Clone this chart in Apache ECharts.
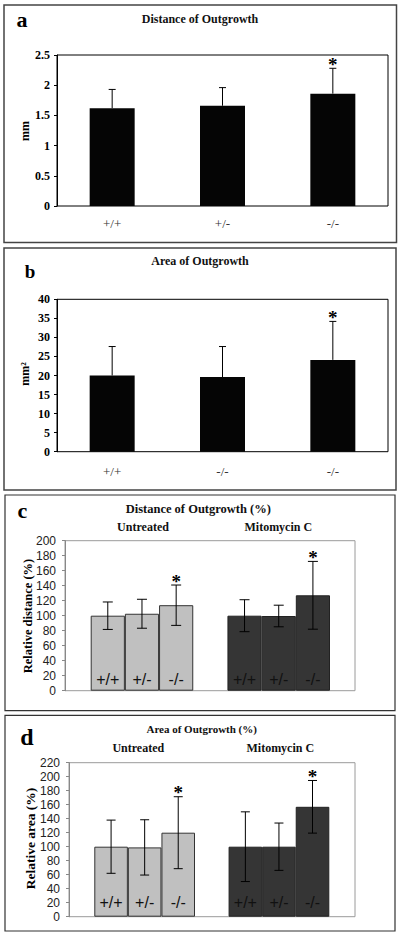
<!DOCTYPE html>
<html>
<head>
<meta charset="utf-8">
<script src="https://cdn.jsdelivr.net/npm/echarts@6/dist/echarts.min.js"></script>
<style>
html,body{margin:0;padding:0;background:#fff;}
#chart{width:400px;height:936px;}
</style>
</head>
<body>
<div id="chart"></div>
<script>
// ---------- data ----------
const genotypesA = ["+/+", "+/-", "-/-"];
const distMean = [1.62, 1.66, 1.86];
const distErr = [0.31, 0.30, 0.42];
const distSig = [0, 0, 1];
const distTicks = [0, 0.5, 1, 1.5, 2, 2.5];

const genotypesB = ["+/+", "-/-", "-/-"];
const areaMean = [20.0, 19.6, 24.1];
const areaErr = [7.6, 8.0, 10.1];
const areaSig = [0, 0, 1];
const areaTicks = [0, 5, 10, 15, 20, 25, 30, 35, 40];

const groups = ["Untreated", "Mitomycin C"];
const genotypes = ["+/+", "+/-", "-/-"];

const relDistUntreated = [100, 102.6, 114.0];
const relDistUntreatedErr = [18.3, 19.3, 26.9];
const relDistMito = [100, 99.6, 127.2];
const relDistMitoErr = [21.3, 14.4, 45.2];
const relDistSigUntreated = [0, 0, 1];
const relDistSigMito = [0, 0, 1];
const relDistTicks = [0, 20, 40, 60, 80, 100, 120, 140, 160, 180, 200];

const relAreaUntreated = [100, 99, 120];
const relAreaUntreatedErr = [38, 39.5, 51.4];
const relAreaMito = [100, 100, 157];
const relAreaMitoErr = [49.8, 33.8, 37.6];
const relAreaSigUntreated = [0, 0, 1];
const relAreaSigMito = [0, 0, 1];
const relAreaTicks = [0, 20, 40, 60, 80, 100, 120, 140, 160, 180, 200, 220];

const yNames = ["mm", "mm²", "Relative distance (%)", "Relative area (%)"];

// ---------- helpers ----------
const SERIF = "'Liberation Serif', 'Times New Roman', serif";
const SANS = "'Liberation Sans', Arial, sans-serif";

function errRender(capHalf, twoSided) {
  return function (params, api) {
    const x = api.value(0), lo = api.value(1), hi = api.value(2), sig = api.value(3);
    const pLo = api.coord([x, lo]);
    const pHi = api.coord([x, hi]);
    const st = { stroke: '#000', lineWidth: 1 };
    const ch = [
      { type: 'line', shape: { x1: pLo[0], y1: pLo[1], x2: pHi[0], y2: pHi[1] }, style: st },
      { type: 'line', shape: { x1: pHi[0] - capHalf, y1: pHi[1], x2: pHi[0] + capHalf, y2: pHi[1] }, style: st }
    ];
    if (twoSided) {
      ch.push({ type: 'line', shape: { x1: pLo[0] - capHalf, y1: pLo[1], x2: pLo[0] + capHalf, y2: pLo[1] }, style: st });
    }
    if (sig) {
      ch.push({ type: 'text', style: { text: '*', x: pHi[0], y: pHi[1] - 4, align: 'center', verticalAlign: 'middle',
        font: 'bold 19px ' + SERIF, fill: '#000' } });
    }
    return { type: 'group', children: ch };
  };
}

function upperErrData(mean, err, sig) {
  return mean.map((m, i) => [i, m, m + err[i], sig[i]]);
}
function groupedErrData(m1, e1, s1, m2, e2, s2) {
  const out = [];
  m1.forEach((m, i) => out.push([i, m - e1[i], m + e1[i], s1[i]]));
  m2.forEach((m, i) => out.push([i + m1.length + 1, m - e2[i], m + e2[i], s2[i]]));
  return out;
}

// grouped x keys: 3 untreated, a spacer, 3 mitomycin
const groupedKeys = [...genotypes.map(g => groups[0] + ' ' + g), '', ...genotypes.map(g => groups[1] + ' ' + g)];
const groupedLabels = [...genotypes, '', ...genotypes];
function padLeft(v) { return [...v, '-', '-', '-', '-']; }
function padRight(v) { return ['-', '-', '-', '-', ...v]; }

const yLabelSerif = { fontFamily: SERIF, fontWeight: 'bold', fontSize: 12, color: '#000' };
const yLabelSans = { fontFamily: SANS, fontSize: 12, color: '#222' };

function yName(text, x, y, size) {
  return { type: 'text', x: x, y: y, rotation: Math.PI / 2, silent: true,
    style: { text: text, x: 0, y: 0, align: 'center', verticalAlign: 'middle', font: 'bold ' + size + 'px ' + SERIF, fill: '#000' } };
}

const chart = echarts.init(document.getElementById('chart'), null, { renderer: 'svg' });

const option = {
  animation: false,
  backgroundColor: '#fff',
  grid: [
    { left: 57, top: 55, width: 331, height: 151, show: true, borderColor: '#000', borderWidth: 1 },
    { left: 57, top: 299.3, width: 331, height: 152.4, show: true, borderColor: '#000', borderWidth: 1 },
    { left: 65, top: 540.7, width: 290, height: 150, show: true, borderColor: '#9a9a9a', borderWidth: 1 },
    { left: 90.7, top: 540.7, width: 239.3, height: 150 },
    { left: 69, top: 762.7, width: 286, height: 154, show: true, borderColor: '#9a9a9a', borderWidth: 1 },
    { left: 94.3, top: 762.7, width: 235, height: 154 }
  ],
  xAxis: [
    { gridIndex: 0, type: 'category', data: genotypesA.map((g, i) => String(i)),
      axisLine: { show: false }, axisTick: { show: false },
      axisLabel: { formatter: (v, i) => genotypesA[i], fontFamily: SERIF, fontSize: 13, color: '#333', margin: 11 } },
    { gridIndex: 1, type: 'category', data: genotypesB.map((g, i) => String(i)),
      axisLine: { show: false }, axisTick: { show: false },
      axisLabel: { formatter: (v, i) => genotypesB[i], fontFamily: SERIF, fontSize: 13, color: '#333', margin: 13 } },
    { gridIndex: 2, type: 'value', show: false, min: 0, max: 1 },
    { gridIndex: 3, type: 'category', data: groupedKeys, show: false },
    { gridIndex: 4, type: 'value', show: false, min: 0, max: 1 },
    { gridIndex: 5, type: 'category', data: groupedKeys, show: false }
  ],
  yAxis: [
    { gridIndex: 0, type: 'value', min: distTicks[0], max: distTicks[distTicks.length - 1], interval: 0.5,
      splitLine: { show: false }, axisLine: { show: true, lineStyle: { color: '#000' } },
      axisTick: { show: true, length: 3, lineStyle: { color: '#000' } },
      axisLabel: Object.assign({ margin: 7 }, yLabelSerif) },
    { gridIndex: 1, type: 'value', min: areaTicks[0], max: areaTicks[areaTicks.length - 1], interval: 5,
      splitLine: { show: false }, axisLine: { show: true, lineStyle: { color: '#000' } },
      axisTick: { show: true, length: 3, lineStyle: { color: '#000' } },
      axisLabel: Object.assign({ margin: 7 }, yLabelSerif) },
    { gridIndex: 2, type: 'value', min: relDistTicks[0], max: relDistTicks[relDistTicks.length - 1], interval: 20,
      splitLine: { show: false }, axisLine: { show: true, lineStyle: { color: '#888' } },
      axisTick: { show: true, length: 3, lineStyle: { color: '#888' } },
      axisLabel: Object.assign({ margin: 9 }, yLabelSans) },
    { gridIndex: 3, type: 'value', show: false, min: relDistTicks[0], max: relDistTicks[relDistTicks.length - 1] },
    { gridIndex: 4, type: 'value', min: relAreaTicks[0], max: relAreaTicks[relAreaTicks.length - 1], interval: 20,
      splitLine: { show: false }, axisLine: { show: true, lineStyle: { color: '#888' } },
      axisTick: { show: true, length: 3, lineStyle: { color: '#888' } },
      axisLabel: Object.assign({ margin: 9 }, yLabelSans) },
    { gridIndex: 5, type: 'value', show: false, min: relAreaTicks[0], max: relAreaTicks[relAreaTicks.length - 1] }
  ],
  series: [
    // panel a
    { type: 'bar', xAxisIndex: 0, yAxisIndex: 0, data: distMean, barWidth: 45, itemStyle: { color: '#050505' } },
    { type: 'custom', xAxisIndex: 0, yAxisIndex: 0, renderItem: errRender(3.5, false),
      data: upperErrData(distMean, distErr, distSig), encode: { x: 0, y: [1, 2] }, z: 5 },
    // panel b
    { type: 'bar', xAxisIndex: 1, yAxisIndex: 1, data: areaMean, barWidth: 45, itemStyle: { color: '#050505' } },
    { type: 'custom', xAxisIndex: 1, yAxisIndex: 1, renderItem: errRender(3.5, false),
      data: upperErrData(areaMean, areaErr, areaSig), encode: { x: 0, y: [1, 2] }, z: 5 },
    // panel c
    { name: groups[0], type: 'bar', xAxisIndex: 3, yAxisIndex: 3, data: padLeft(relDistUntreated),
      barWidth: '100%', barGap: '-100%', itemStyle: { color: '#c0c0c0', borderColor: '#333', borderWidth: 1 },
      label: { show: true, position: 'insideBottom', distance: 3, formatter: p => groupedLabels[p.dataIndex],
        fontFamily: SANS, fontSize: 16, color: '#111' } },
    { name: groups[1], type: 'bar', xAxisIndex: 3, yAxisIndex: 3, data: padRight(relDistMito),
      barWidth: '100%', barGap: '-100%', itemStyle: { color: '#353535', borderColor: '#222', borderWidth: 1 },
      label: { show: true, position: 'insideBottom', distance: 3, formatter: p => groupedLabels[p.dataIndex],
        fontFamily: SANS, fontSize: 16, color: '#111' } },
    { type: 'custom', xAxisIndex: 3, yAxisIndex: 3, renderItem: errRender(5, true),
      data: groupedErrData(relDistUntreated, relDistUntreatedErr, relDistSigUntreated, relDistMito, relDistMitoErr, relDistSigMito),
      encode: { x: 0, y: [1, 2] }, z: 5 },
    // panel d
    { name: groups[0], type: 'bar', xAxisIndex: 5, yAxisIndex: 5, data: padLeft(relAreaUntreated),
      barWidth: '100%', barGap: '-100%', itemStyle: { color: '#c0c0c0', borderColor: '#333', borderWidth: 1 },
      label: { show: true, position: 'insideBottom', distance: 6, formatter: p => groupedLabels[p.dataIndex],
        fontFamily: SANS, fontSize: 16, color: '#111' } },
    { name: groups[1], type: 'bar', xAxisIndex: 5, yAxisIndex: 5, data: padRight(relAreaMito),
      barWidth: '100%', barGap: '-100%', itemStyle: { color: '#353535', borderColor: '#222', borderWidth: 1 },
      label: { show: true, position: 'insideBottom', distance: 6, formatter: p => groupedLabels[p.dataIndex],
        fontFamily: SANS, fontSize: 16, color: '#111' } },
    { type: 'custom', xAxisIndex: 5, yAxisIndex: 5, renderItem: errRender(4.5, true),
      data: groupedErrData(relAreaUntreated, relAreaUntreatedErr, relAreaSigUntreated, relAreaMito, relAreaMitoErr, relAreaSigMito),
      encode: { x: 0, y: [1, 2] }, z: 5 }
  ],
  graphic: [
    // panel frames
    { type: 'rect', shape: { x: 4, y: 5, width: 392.5, height: 237.5 }, style: { fill: 'none', stroke: '#444', lineWidth: 1.5 }, silent: true },
    { type: 'rect', shape: { x: 4, y: 248, width: 392, height: 242 }, style: { fill: 'none', stroke: '#444', lineWidth: 1.5 }, silent: true },
    { type: 'rect', shape: { x: 5, y: 495, width: 390, height: 215.7 }, style: { fill: 'none', stroke: '#333', lineWidth: 1.2 }, silent: true },
    { type: 'rect', shape: { x: 5, y: 715.3, width: 390, height: 215.7 }, style: { fill: 'none', stroke: '#333', lineWidth: 1.2 }, silent: true },
    // y-axis names (rotated)
    yName(yNames[0], 25, 131, 12),
    yName(yNames[1], 24.5, 374, 12),
    yName(yNames[2], 27.5, 616, 12.5),
    yName(yNames[3], 30.5, 838.5, 13.5),
    // panel letters
    { type: 'text', style: { text: 'a', x: 22, y: 19.2, align: 'center', verticalAlign: 'middle', font: 'bold 22px ' + SERIF, fill: '#000' } },
    { type: 'text', style: { text: 'b', x: 30, y: 271.8, align: 'center', verticalAlign: 'middle', font: 'bold 19px ' + SERIF, fill: '#000' } },
    { type: 'text', style: { text: 'c', x: 22.5, y: 510.2, align: 'center', verticalAlign: 'middle', font: 'bold 22px ' + SERIF, fill: '#000' } },
    { type: 'text', style: { text: 'd', x: 27, y: 736.8, align: 'center', verticalAlign: 'middle', font: 'bold 24px ' + SERIF, fill: '#000' } },
    // titles
    { type: 'text', style: { text: 'Distance of Outgrowth', x: 200, y: 19.2, align: 'center', verticalAlign: 'middle', font: 'bold 12px ' + SERIF, fill: '#111' } },
    { type: 'text', style: { text: 'Area of Outgrowth', x: 200, y: 261, align: 'center', verticalAlign: 'middle', font: 'bold 12px ' + SERIF, fill: '#111' } },
    { type: 'text', style: { text: 'Distance of Outgrowth (%)', x: 198.3, y: 508.7, align: 'center', verticalAlign: 'middle', font: 'bold 12.5px ' + SERIF, fill: '#111' } },
    { type: 'text', style: { text: groups[0], x: 143, y: 527, align: 'center', verticalAlign: 'middle', font: 'bold 12px ' + SERIF, fill: '#111' } },
    { type: 'text', style: { text: groups[1], x: 278.3, y: 527, align: 'center', verticalAlign: 'middle', font: 'bold 12px ' + SERIF, fill: '#111' } },
    { type: 'text', style: { text: 'Area of Outgrowth (%)', x: 201.7, y: 729.3, align: 'center', verticalAlign: 'middle', font: 'bold 11px ' + SERIF, fill: '#111' } },
    { type: 'text', style: { text: groups[0], x: 138.3, y: 748, align: 'center', verticalAlign: 'middle', font: 'bold 12px ' + SERIF, fill: '#111' } },
    { type: 'text', style: { text: groups[1], x: 280.3, y: 748, align: 'center', verticalAlign: 'middle', font: 'bold 12px ' + SERIF, fill: '#111' } }
  ]
};
chart.setOption(option);
</script>
</body>
</html>
